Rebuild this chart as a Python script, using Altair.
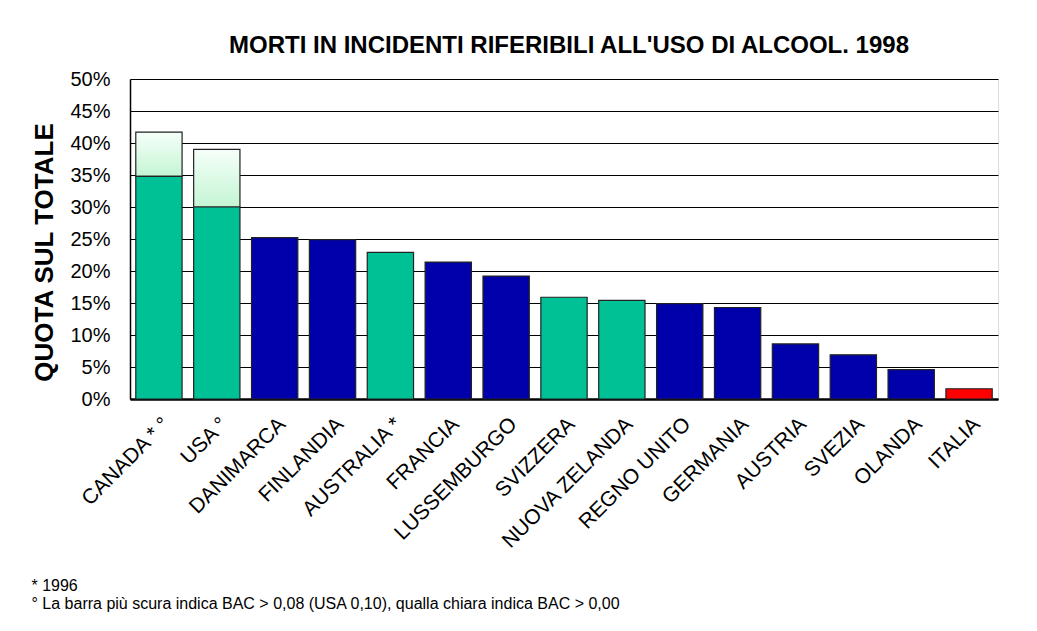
import altair as alt
import pandas as pd

countries = ["CANADA * °", "USA °", "DANIMARCA", "FINLANDIA", "AUSTRALIA *", "FRANCIA",
             "LUSSEMBURGO", "SVIZZERA", "NUOVA ZELANDA", "REGNO UNITO", "GERMANIA",
             "AUSTRIA", "SVEZIA", "OLANDA", "ITALIA"]
values = [34.8, 30.0, 25.2, 24.9, 22.9, 21.4, 19.2, 15.9, 15.4, 14.9, 14.3, 8.6, 6.9, 4.6, 1.6]
groups = ["A", "A", "B", "B", "A", "B", "B", "A", "A", "B", "B", "B", "B", "B", "C"]

# lighter bar (BAC > 0,00) for Canada and USA
light_countries = ["CANADA * °", "USA °"]
light_values = [41.7, 39.0]

y_ticks = [0, 5, 10, 15, 20, 25, 30, 35, 40, 45, 50]

title_text = "MORTI IN INCIDENTI RIFERIBILI ALL'USO DI ALCOOL. 1998"
y_title = "QUOTA SUL TOTALE"
footnotes = ["* 1996",
             "° La barra più scura indica BAC > 0,08 (USA 0,10), qualla chiara indica BAC > 0,00"]

FONT = "Liberation Sans"

df = pd.DataFrame({"paese": countries, "quota": values, "gruppo": groups})
base_lookup = dict(zip(countries, values))
df_light = pd.DataFrame({
    "paese": light_countries,
    "quota": light_values,
    "base": [base_lookup[c] for c in light_countries],
})

x_enc = alt.X(
    "paese:N", sort=countries,
    scale=alt.Scale(paddingInner=0.2, paddingOuter=0.1),
    axis=alt.Axis(
        title=footnotes, labelAngle=-45, labelFontSize=21, labelFont=FONT,
        labelColor="black", labelPadding=14, ticks=False,
        domainColor="black", domainWidth=2.5,
        titleFont=FONT, titleFontSize=16, titleFontWeight="normal", titleColor="black",
        titleAnchor="start", titleAlign="left", titleBaseline="alphabetic",
        titleX=-99, titleY=191, titleLineHeight=18,
    ),
)

y_scale = alt.Scale(domain=[0, 50], nice=False)
y_axis = alt.Axis(
    title=y_title, values=y_ticks, labelExpr="datum.value + '%'",
    labelFontSize=20, labelFont=FONT, labelColor="black", labelPadding=20,
    ticks=False, domainColor="black", domainWidth=1.5,
    grid=True, gridColor="black", gridWidth=1, gridOpacity=1,
    titleFont=FONT, titleFontSize=26, titleFontWeight="bold", titleColor="black",
    titleAngle=-90, titleX=-86, titleY=173, titleAlign="center", titleBaseline="middle",
)

gradient = alt.LinearGradient(
    gradient="linear",
    stops=[alt.GradientStop(color="#F6FFF9", offset=0),
           alt.GradientStop(color="#C4F5D4", offset=1)],
    x1=0, x2=0, y1=0, y2=1,
)

light = alt.Chart(df_light).mark_bar(
    fill=gradient, stroke="#222222", strokeWidth=1.2
).encode(
    x=x_enc,
    y=alt.Y("quota:Q", scale=y_scale, axis=y_axis),
    y2="base:Q",
)

main = alt.Chart(df).mark_bar(stroke="#222222", strokeWidth=1.2).encode(
    x=x_enc,
    y=alt.Y("quota:Q", scale=y_scale, axis=y_axis),
    fill=alt.Fill("gruppo:N", legend=None,
                  scale=alt.Scale(domain=["A", "B", "C"],
                                  range=["#00C096", "#0000AA", "#FF0000"])),
)

chart = alt.layer(light, main).properties(
    width=868, height=320,
    title=alt.TitleParams(title_text, font=FONT, fontSize=24, fontWeight="bold",
                          color="black", anchor="middle", offset=11, dx=5),
    autosize=alt.AutoSizeParams(type="none"),
    padding={"left": 122, "top": 71, "right": 20, "bottom": 215},
).configure_view(
    stroke="black", strokeWidth=1.5
).configure(background="white")

chart.save("out.html", embed_options={"renderer": "svg", "actions": False})
